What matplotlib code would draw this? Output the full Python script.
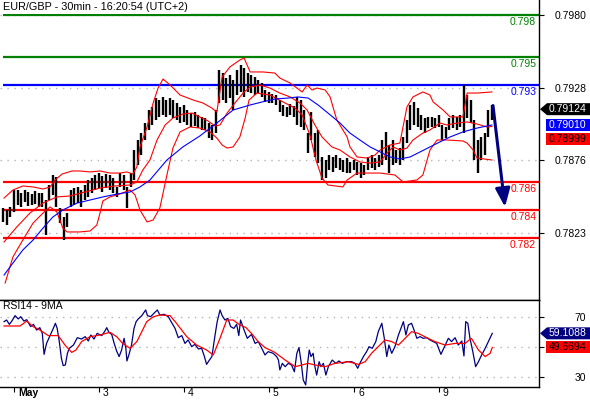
import numpy as np
import matplotlib
matplotlib.use('Agg')
import matplotlib.pyplot as plt
from matplotlib.patches import Polygon
from matplotlib.transforms import IdentityTransform, ScaledTranslation

plt.rcParams['font.family'] = ['Liberation Sans', 'DejaVu Sans']

title = 'EUR/GBP - 30min - 16:20:54 (UTC+2)'

# hourly bars, first bar at hour -3 (hour 0 = start of 2 May)
first_hour = -3
highs = [0.78412, 0.78398, 0.78420, 0.78542, 0.78542, 0.78520, 0.78542, 0.78528, 0.78513, 0.78535,
         0.78520, 0.78520, 0.78470, 0.78578, 0.78650, 0.78636, 0.78412, 0.78348, 0.78376, 0.78542,
         0.78556, 0.78564, 0.78542, 0.78578, 0.78614, 0.78628, 0.78650, 0.78664, 0.78643, 0.78657,
         0.78650, 0.78628, 0.78564, 0.78664, 0.78650, 0.78564, 0.78664, 0.78830, 0.78902, 0.78952,
         0.79024, 0.79118, 0.79140, 0.79204, 0.79190, 0.79212, 0.79190, 0.79204, 0.79190, 0.79168,
         0.79140, 0.79154, 0.79118, 0.79096, 0.79104, 0.79082, 0.79068, 0.79060, 0.79024, 0.79010,
         0.79118, 0.79406, 0.79384, 0.79348, 0.79370, 0.79334, 0.79406, 0.79442, 0.79420, 0.79384,
         0.79370, 0.79356, 0.79334, 0.79312, 0.79262, 0.79248, 0.79233, 0.79226, 0.79190, 0.79154,
         0.79140, 0.79161, 0.79147, 0.79212, 0.79190, 0.79118, 0.78952, 0.79104, 0.78952, 0.78974,
         0.78780, 0.78758, 0.78794, 0.78780, 0.78794, 0.78772, 0.78758, 0.78772, 0.78744, 0.78758,
         0.78744, 0.78736, 0.78722, 0.78780, 0.78794, 0.78772, 0.78794, 0.78902, 0.78960, 0.78866,
         0.78902, 0.78830, 0.78844, 0.78924, 0.79046, 0.79154, 0.79176, 0.79132, 0.79082, 0.79060,
         0.79068, 0.79068, 0.79060, 0.79082, 0.79010, 0.78996, 0.79060, 0.79082, 0.79068, 0.79082,
         0.79298, 0.79226, 0.79190, 0.79046, 0.78902, 0.78924, 0.78952, 0.79118, 0.79154]
lows = [0.78312, 0.78290, 0.78348, 0.78384, 0.78434, 0.78420, 0.78456, 0.78427, 0.78434, 0.78441,
        0.78420, 0.78420, 0.78218, 0.78470, 0.78506, 0.78420, 0.78304, 0.78182, 0.78276, 0.78420,
        0.78434, 0.78448, 0.78420, 0.78470, 0.78492, 0.78520, 0.78542, 0.78556, 0.78528, 0.78556,
        0.78542, 0.78520, 0.78492, 0.78564, 0.78542, 0.78412, 0.78564, 0.78614, 0.78722, 0.78794,
        0.78902, 0.78974, 0.79010, 0.79046, 0.79068, 0.79082, 0.79068, 0.79082, 0.79060, 0.79046,
        0.79024, 0.79032, 0.79010, 0.78996, 0.79003, 0.78988, 0.78974, 0.78974, 0.78916, 0.78902,
        0.78952, 0.79168, 0.79190, 0.79168, 0.79204, 0.79118, 0.79226, 0.79248, 0.79212, 0.79248,
        0.79240, 0.79226, 0.79240, 0.79212, 0.79176, 0.79168, 0.79168, 0.79154, 0.79104, 0.79075,
        0.79068, 0.79082, 0.79068, 0.79010, 0.78996, 0.78974, 0.78808, 0.78902, 0.78780, 0.78736,
        0.78614, 0.78628, 0.78686, 0.78672, 0.78700, 0.78686, 0.78672, 0.78664, 0.78664, 0.78686,
        0.78650, 0.78628, 0.78650, 0.78686, 0.78700, 0.78686, 0.78708, 0.78722, 0.78758, 0.78664,
        0.78722, 0.78736, 0.78722, 0.78758, 0.78880, 0.78974, 0.79010, 0.78996, 0.78974, 0.78952,
        0.78988, 0.78996, 0.78988, 0.78996, 0.78902, 0.78916, 0.78974, 0.78988, 0.78974, 0.78996,
        0.78952, 0.79060, 0.79024, 0.78758, 0.78664, 0.78758, 0.78794, 0.78924, 0.79046]

# Bollinger bands (red) and slow moving average (blue)
upper_h = [-2.8, -0.3, 2.5, 5.4, 8.2, 10.2, 11.6, 13.6, 16.4, 18.6, 21.5, 24.3, 27.1, 29.9, 31.9,
           33.6, 34.7, 35.6, 37.6, 39.3, 40.7, 42.1, 44.1, 46.9, 50.6, 53.4, 55.9, 57.3, 58.8, 61.0,
           63.8, 65.0, 66.7, 70.3, 73.7, 75.1, 78.0, 81.4, 82.8, 84.2, 85.6, 87.9, 89.3, 90.1, 91.2,
           94.1, 94.9, 96.9, 99.7, 102.0, 103.4, 106.2, 109.0, 111.0, 112.7, 115.5, 117.5, 118.4,
           121.2, 123.2, 126.8, 128.0, 130.8, 135.0]
upper = [0.78484, 0.78542, 0.78571, 0.78564, 0.78549, 0.78564, 0.78614, 0.78657, 0.78679, 0.78679,
         0.78672, 0.78679, 0.78664, 0.78664, 0.78672, 0.78657, 0.78708, 0.78852, 0.78996, 0.79168,
         0.79276, 0.79341, 0.79298, 0.79226, 0.79190, 0.79168, 0.79132, 0.79104, 0.79356, 0.79428,
         0.79478, 0.79492, 0.79392, 0.79392, 0.79384, 0.79348, 0.79312, 0.79248, 0.79298, 0.79262,
         0.79276, 0.79262, 0.79212, 0.79140, 0.79046, 0.78924, 0.78852, 0.78780, 0.78772, 0.78794,
         0.78830, 0.78866, 0.78880, 0.79140, 0.79212, 0.79248, 0.79226, 0.79176, 0.79118, 0.79068,
         0.79068, 0.79240, 0.79240, 0.79248]
mid_h = [-2.8, 0.8, 4.5, 8.2, 12.1, 15.8, 20.1, 24.3, 28.5, 32.8, 34.7, 36.4, 38.4, 40.4, 42.7,
         44.9, 47.7, 50.3, 52.5, 54.8, 56.8, 58.2, 60.2, 62.4, 64.7, 66.7, 69.5, 72.3, 75.1, 78.0,
         80.8, 82.8, 85.0, 87.0, 89.8, 92.1, 94.9, 97.7, 100.6, 103.4, 105.4, 107.1, 109.0, 111.0,
         112.7, 115.5, 117.5, 120.3, 122.3, 125.1, 128.0, 130.8, 133.6, 135.0]
mid = [0.78168, 0.78276, 0.78376, 0.78448, 0.78492, 0.78499, 0.78528, 0.78556, 0.78571, 0.78578,
       0.78600, 0.78686, 0.78758, 0.78902, 0.79010, 0.79060, 0.79089, 0.79096, 0.79068, 0.79039,
       0.79003, 0.79010, 0.79096, 0.79168, 0.79240, 0.79284, 0.79298, 0.79276, 0.79240, 0.79212,
       0.79168, 0.79118, 0.79010, 0.78924, 0.78852, 0.78830, 0.78780, 0.78744, 0.78736, 0.78744,
       0.78808, 0.78852, 0.78830, 0.78844, 0.78902, 0.78952, 0.78974, 0.79024, 0.79010, 0.79024,
       0.79032, 0.79017, 0.78996, 0.78999]
lower_h = [-2.5, -0.3, 2.5, 5.4, 8.2, 10.2, 12.1, 13.8, 15.0, 18.6, 21.5, 23.4, 24.3, 25.1, 27.1,
           29.9, 32.8, 34.2, 35.6, 37.6, 39.3, 41.2, 43.2, 44.9, 46.9, 49.7, 52.5, 55.4, 57.3, 58.8,
           60.2, 61.9, 63.8, 65.3, 66.4, 68.6, 72.3, 76.6, 79.4, 81.4, 83.6, 85.3, 87.0, 88.7, 92.9,
           94.1, 96.9, 103.4, 107.6, 109.9, 113.8, 115.5, 117.5, 119.5, 122.3, 126.8, 128.0, 129.7,
           130.8, 135.0]
lower = [0.77872, 0.78060, 0.78182, 0.78304, 0.78376, 0.78420, 0.78384, 0.78268, 0.78240, 0.78240,
         0.78247, 0.78290, 0.78376, 0.78463, 0.78492, 0.78513, 0.78542, 0.78506, 0.78398, 0.78312,
         0.78326, 0.78412, 0.78650, 0.78844, 0.78960, 0.78996, 0.78988, 0.78960, 0.78916, 0.78866,
         0.78844, 0.78852, 0.78924, 0.79060, 0.79190, 0.79240, 0.79226, 0.79168, 0.79132, 0.79082,
         0.78938, 0.78758, 0.78628, 0.78578, 0.78564, 0.78614, 0.78664, 0.78664, 0.78650, 0.78600,
         0.78614, 0.78650, 0.78830, 0.78902, 0.78902, 0.78895, 0.78880, 0.78830, 0.78772, 0.78758]
ma_h = [-2.8, -0.3, 2.5, 5.4, 8.2, 11.0, 13.8, 17.8, 21.5, 25.1, 29.1, 32.8, 35.6, 38.4, 43.2,
        47.7, 52.5, 57.3, 61.9, 66.7, 70.1, 73.7, 77.4, 80.2, 83.1, 85.9, 88.7, 92.1, 94.9, 97.7,
        100.6, 103.4, 106.2, 109.0, 111.9, 114.7, 117.5, 120.3, 123.2, 126.8, 130.8, 135.0]
ma = [0.77930, 0.78016, 0.78110, 0.78182, 0.78268, 0.78348, 0.78398, 0.78448, 0.78470, 0.78492,
      0.78513, 0.78528, 0.78564, 0.78614, 0.78758, 0.78852, 0.78931, 0.79024, 0.79118, 0.79154,
      0.79176, 0.79197, 0.79204, 0.79212, 0.79204, 0.79154, 0.79096, 0.79024, 0.78952, 0.78902,
      0.78852, 0.78816, 0.78780, 0.78765, 0.78780, 0.78816, 0.78852, 0.78888, 0.78924, 0.78960,
      0.78988, 0.79010]

# support / resistance levels
levels = [0.798, 0.795, 0.793, 0.786, 0.784, 0.782]
level_colors = ['#008000', '#008000', '#0000ff', '#ff0000', '#ff0000', '#ff0000']

last_price = 0.79124
ma_last = 0.79010
mid_last = 0.78999
arrow_from = (135.3, 0.79150)
arrow_to = (138.7, 0.78420)

# RSI(14) and its 9-period average
rsi_h = [-2.8, -2.1, -1.3, -0.6, 0.3, 1.2, 1.9, 2.8, 3.6, 4.7, 5.5, 6.4, 7.3, 8.0, 8.5, 9.2,
         10.2, 11.1, 11.7, 12.2, 12.8, 13.4, 13.9, 14.5, 15.1, 15.6, 16.8, 17.9, 19.1, 20.1,
         21.0, 21.7, 22.6, 23.5, 24.8, 25.7, 26.2, 26.8, 27.6, 28.3, 29.0, 29.7, 30.4, 31.1,
         31.6, 31.9, 32.5, 33.2, 33.9, 34.5, 35.1, 36.1, 37.2, 37.7, 38.6, 39.5, 40.5, 41.2,
         42.4, 43.6, 44.5, 45.5, 46.4, 47.4, 48.3, 49.2, 50.2, 51.1, 52.1, 53.0, 53.8, 54.4,
         55.2, 55.9, 56.8, 57.4, 58.2, 58.8, 59.6, 60.4, 61.2, 62.1, 62.9, 63.5, 64.0, 65.0,
         65.9, 67.1, 68.1, 69.0, 70.0, 70.9, 71.8, 73.2, 74.2, 74.7, 75.1, 75.8, 76.6, 77.5,
         78.4, 79.2, 79.9, 80.5, 81.1, 81.7, 82.4, 83.0, 83.4, 83.9, 84.5, 85.0, 85.5, 86.2,
         86.7, 87.4, 88.1, 88.8, 89.9, 90.9, 91.8, 92.7, 94.0, 95.4, 96.3, 97.1, 97.7, 98.7,
         99.6, 100.3, 101.2, 102.2, 102.9, 103.9, 104.6, 105.3, 105.9, 106.7, 107.6, 108.6,
         109.3, 110.0, 110.7, 111.4, 112.3, 113.1, 113.8, 114.7, 115.6, 116.6, 117.5, 118.4,
         119.4, 120.6, 121.8, 122.7, 123.6, 124.6, 125.5, 126.5, 127.1, 127.6, 128.2, 128.8,
         129.6, 130.4, 131.2, 132.1, 133.1, 134.0, 135.1]
rsi = [66.9, 68.0, 65.1, 67.3, 70.9, 68.7, 70.2, 67.3, 68.2, 63.6, 65.1, 61.3, 62.9, 59.1, 45.1, 52.4,
       57.6, 62.4, 65.8, 62.4, 53.6, 42.4, 37.6, 38.0, 45.8, 49.1, 51.3, 56.2, 55.3, 56.9,
       54.0, 58.0, 55.3, 59.1, 57.6, 60.7, 62.9, 59.8, 58.4, 52.4, 47.3, 43.6, 48.0, 55.8,
       49.1, 40.7, 45.1, 51.3, 62.4, 66.9, 68.7, 70.9, 74.7, 70.9, 70.2, 72.4, 74.7, 71.3,
       71.8, 70.2, 66.4, 62.4, 56.2, 57.6, 52.4, 54.7, 50.2, 51.8, 48.7, 49.1, 43.6, 38.4,
       41.3, 43.6, 58.0, 66.9, 74.7, 70.9, 68.0, 69.1, 63.6, 62.4, 65.1, 57.6, 68.0, 61.3,
       55.8, 58.4, 52.4, 53.6, 49.1, 44.7, 46.9, 45.8, 43.6, 41.3, 34.7, 39.1, 36.9, 39.1,
       38.0, 33.5, 45.8, 49.6, 40.2, 28.0, 24.7, 40.2, 48.0, 43.6, 45.8, 36.9, 31.3, 40.2,
       36.9, 39.1, 31.3, 36.9, 41.3, 39.1, 40.7, 39.1, 40.2, 40.2, 39.1, 35.8, 39.1, 43.6,
       46.9, 50.2, 49.1, 53.6, 60.2, 65.8, 55.8, 43.6, 51.3, 45.8, 50.2, 58.0,
       62.4, 66.9, 58.0, 64.7, 65.8, 60.7, 55.8, 56.9, 55.8, 56.2, 54.7, 53.6,
       52.4, 45.1, 51.3, 55.8, 53.6, 56.2, 51.3, 54.0, 44.0, 66.9, 65.8, 55.8,
       46.9, 36.9, 40.2, 44.7, 49.1, 53.6, 59.1]
rsi_ma_h = [-2.8, 1.7, 3.6, 5.4, 7.3, 9.7, 12.5, 14.4, 16.3, 17.5, 19.1, 21.5, 24.3, 27.1, 29.0,
            30.7, 32.8, 34.7, 36.1, 37.5, 39.4, 41.2, 44.1, 45.9, 48.8, 51.6, 54.4, 56.3, 58.2,
            60.1, 61.9, 63.8, 65.5, 67.1, 69.0, 70.9, 73.7, 76.6, 79.4, 81.3, 83.1, 85.0, 87.9,
            90.7, 94.4, 97.3, 99.2, 101.0, 102.9, 104.8, 106.7, 108.6, 110.5, 112.3, 114.2,
            116.6, 118.9, 121.8, 124.6, 127.4, 129.2, 131.2, 133.1, 134.5, 135.1]
rsi_ma = [64.0, 64.0, 67.3, 63.6, 61.3, 57.6, 57.6, 51.3, 46.4, 48.0, 53.6, 56.9, 58.0, 59.8, 56.9,
          52.4, 49.1, 53.6, 60.2, 66.9, 70.2, 71.3, 70.9, 65.8, 56.9, 51.3, 48.0, 44.7, 55.8,
          68.0, 68.0, 64.7, 63.0, 59.0, 53.6, 49.6, 46.4, 41.3, 36.9, 38.0, 39.1, 38.0, 36.9,
          39.1, 40.2, 38.4, 40.2, 45.8, 50.2, 54.7, 53.6, 51.3, 55.8, 60.2, 59.1,
          56.2, 53.6, 51.3, 52.4, 52.4, 55.8, 48.0, 43.6, 45.8, 49.67]
rsi_last = 59.1088
rsi_ma_last = 49.6694

day_pos = [0, 24, 48, 72, 96, 120]
day_labels = ['May', '3', '4', '5', '6', '9']
price_ticks = [0.7823, 0.7876, 0.7928, 0.7980]
rsi_ticks = [30, 50, 70]

hours = np.arange(first_hour, first_hour + len(highs))

W, H = 590, 400
fig = plt.figure(figsize=(W / 100, H / 100), dpi=100)
ax = fig.add_axes([0, 100 / H, 539 / W, 300 / H])
ax2 = fig.add_axes([0, 13 / H, 539 / W, 87 / H], sharex=ax)

xmax = 148.3
ax.set_xlim(-3.95, xmax)
ax.set_ylim(0.7775, 0.7991)
ax2.set_ylim(23.33, 81.33)

grid_style = dict(color='#b4b4b4', linestyle=(0, (1, 4)), lw=1.0)

# price panel
ax.set_yticks(price_ticks)
ax.set_yticklabels([f'{t:.4f}' for t in price_ticks])
ax.yaxis.tick_right()
ax.tick_params(axis='y', length=3.5, width=0.8, pad=8, labelsize=7.5)
ax.tick_params(axis='x', bottom=False, labelbottom=False)
ax.grid(axis='y', **grid_style)
for side in ['left', 'top']:
    ax.spines[side].set_visible(False)
for side in ['right', 'bottom']:
    ax.spines[side].set_linewidth(1.0)

ax.vlines(hours, lows, highs, color='black', lw=1.7, zorder=3)
ax.plot(upper_h, upper, color='#ff0000', lw=0.8, zorder=4)
ax.plot(mid_h, mid, color='#ff0000', lw=0.8, zorder=4)
ax.plot(lower_h, lower, color='#ff0000', lw=0.8, zorder=4)
ax.plot(ma_h, ma, color='#0000ff', lw=0.8, zorder=4)

ax.hlines(levels, hours[0], xmax, colors=level_colors, lw=1.6, zorder=2)
for lvl, c in zip(levels, level_colors):
    ax.annotate(f'{lvl:.3f}', xy=(1, lvl), xycoords=('axes fraction', 'data'),
                xytext=(-2, -1.5), textcoords='offset points', ha='right', va='top',
                color=c, fontsize=7.5)

ax.annotate('', xy=arrow_to, xytext=arrow_from, annotation_clip=False,
            arrowprops=dict(arrowstyle='-|>,head_length=0.55,head_width=0.22',
                            color='#000080', lw=2.2, shrinkA=0, shrinkB=0,
                            mutation_scale=20), zorder=6)

fig.text(3 / W, 1 - 7 / H, title, fontsize=7.8, ha='left', va='center',
         bbox=dict(fc='white', ec='none', pad=1.8))

# RSI panel
ax2.set_yticks(rsi_ticks)
ax2.set_yticklabels(['30', '', '70'])
ax2.yaxis.tick_right()
ax2.tick_params(axis='y', length=3.5, width=0.8, pad=22, labelsize=7.5)
ax2.grid(axis='y', **grid_style)
ax2.spines['left'].set_visible(False)
for side in ['right', 'bottom', 'top']:
    ax2.spines[side].set_linewidth(1.0)
ax2.plot(rsi_h, rsi, color='#000080', lw=0.9)
ax2.plot(rsi_ma_h, rsi_ma, color='#ff0000', lw=0.9)
ax2.text(3 / 539, 0.93, 'RSI14 - 9MA', transform=ax2.transAxes, fontsize=7.5,
         ha='left', va='center')

ax2.set_xticks(day_pos)
ax2.set_xticklabels(day_labels, ha='left')
ax2.tick_params(axis='x', length=3.5, width=0.8, pad=-2.5, labelsize=7.5)
shift = ScaledTranslation(3 / 72, 0, fig.dpi_scale_trans)
for lab in ax2.get_xticklabels():
    lab.set_transform(lab.get_transform() + shift)
ax2.get_xticklabels()[0].set_fontweight('bold')


def price_tag(axis, value, text, face, txt_color, pointed, dy=0.0):
    y = axis.transData.transform((0, value))[1] - dy
    x0 = 547 if pointed else 546
    pts = [(x0, y + 6), (590, y + 6), (590, y - 6), (x0, y - 6)]
    if pointed:
        pts.insert(0, (540, y))
    fig.add_artist(Polygon(pts, closed=True, fc=face, ec='none',
                           transform=IdentityTransform()))
    fig.text(549 / W, y / H, text, color=txt_color, fontsize=7.5,
             ha='left', va='center')


price_tag(ax, last_price, f'{last_price:.5f}', 'black', 'white', True)
price_tag(ax, ma_last, f'{ma_last:.5f}', '#0000ff', 'white', False)
price_tag(ax, ma_last, f'{mid_last:.5f}', '#ff0000', 'black', False, dy=13.5)
price_tag(ax2, rsi_last, f'{rsi_last:.4f}', '#000080', 'white', True)
price_tag(ax2, rsi_ma_last, f'{rsi_ma_last:.4f}', '#ff0000', 'black', False)

fig.savefig('out.png', dpi=100)
